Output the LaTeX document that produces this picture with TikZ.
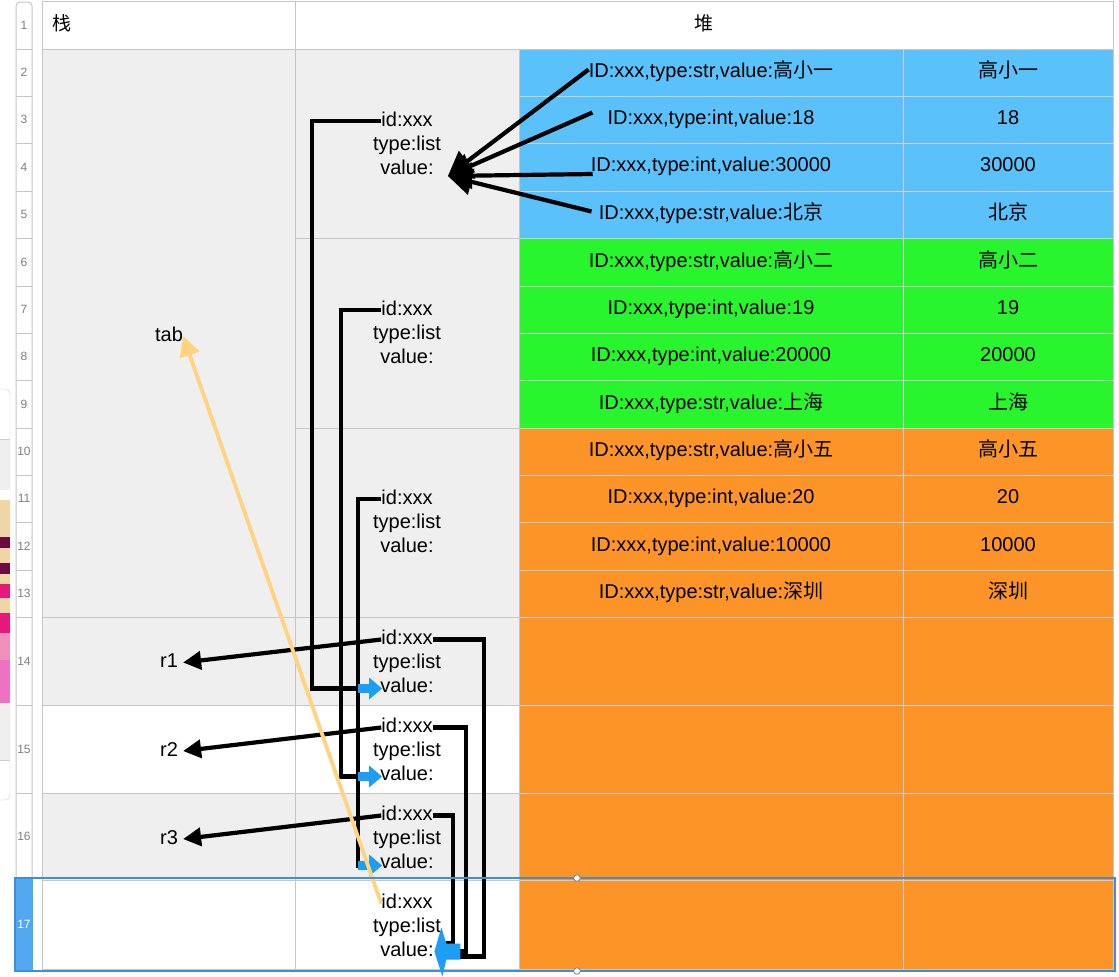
\documentclass[tikz,border=0pt]{standalone}
\usepackage{fontspec}
\setmainfont{Liberation Sans}
\newfontfamily\cjk{Noto Sans CJK SC}
\usetikzlibrary{arrows.meta,calc}
\definecolor{cellgrey}{HTML}{EFEFEF}
\definecolor{gridc}{HTML}{C6C6C6}
\definecolor{gridl}{HTML}{CFCFCF}
\definecolor{heapblue}{HTML}{5BC1FA}
\definecolor{heapgreen}{HTML}{29F52E}
\definecolor{heaporange}{HTML}{FD9428}
\definecolor{arrblue}{HTML}{1E9DF5}
\definecolor{selblue}{HTML}{3D8FDE}
\definecolor{selfill}{HTML}{52A8F0}
\definecolor{tabarrow}{HTML}{FFD37F}
\definecolor{rownum}{HTML}{7F7F7F}
\definecolor{pantan}{HTML}{EFD6A6}
\definecolor{panmaroon}{HTML}{6E0B3E}
\definecolor{panhot}{HTML}{E5197A}
\definecolor{panpink}{HTML}{EE72C2}
\begin{document}
\begin{tikzpicture}[x=1pt,y=-1pt,
  txt/.style={font=\fontsize{20}{24}\selectfont, inner sep=0pt, text height=14.5pt, text depth=4pt},
  rlab/.style={txt, inner xsep=5pt},
  numtxt/.style={font=\fontsize{12}{14}\selectfont, text=rownum, inner sep=0pt},
  grid/.style={draw=gridc, line width=1pt},
  gridlight/.style={draw=gridl, line width=1pt},
  conn/.style={black, line width=4.2pt},
  rarrow/.style={conn, -{Triangle[length=18pt,width=18pt]}},
  bigarrow/.style={conn, -{Triangle[length=24pt,width=26pt]}},
  blockarrow/.style={arrblue, line width=8.5pt, -{Triangle[length=13pt,width=21pt]}},
  tabconn/.style={tabarrow, line width=3.8pt, -{Triangle[length=20pt,width=20pt]}}
]
\useasboundingbox (0,0) rectangle (1119,977);
\fill[white] (0,0) rectangle (1119,977);

% floating side panel with pencils
\fill[white, draw=gridl, rounded corners=5] (-12,389) rectangle (10,800);
\fill[cellgrey] (-12,439) rectangle (9.5,760);
\draw[gridl] (-12,439) -- (10,439);
\draw[gridl] (-12,760) -- (10,760);
\foreach \ya/\yb/\c in {490/513/white, 500/537/pantan, 537/548/panmaroon, 548/563/pantan, 563/574/panmaroon, 574/584/pantan, 584/598/panhot, 598/613/pantan, 613/633/panhot, 633/660/panpink!70!pantan, 660/703/panpink}
  \fill[\c] (-2,\ya) rectangle (9.5,\yb);

% cell backgrounds
\fill[white] (42,1.5) rectangle (1113,969);
\fill[cellgrey] (42,49) rectangle (519,705);
\fill[cellgrey] (42,793) rectangle (519,880);
\fill[heapblue] (519,49) rectangle (1113,238);
\fill[heapgreen] (519,238) rectangle (1113,428);
\fill[heaporange] (519,428) rectangle (1113,969);

% grid lines
\foreach \y in {96,143,191,238,286,333,380,428,475,522,570,617,705,793,880}
  \draw[gridlight] (519,\y) -- (1113,\y);
\draw[grid] (42,49) -- (1113,49);
\draw[grid] (295,1.5) -- (295,969);
\draw[grid] (519,49) -- (519,969);
\draw[gridlight] (903,49) -- (903,969);
\foreach \y in {238,428} \draw[grid] (295,\y) -- (519,\y);
\foreach \y in {617,705,793,880} \draw[grid] (42,\y) -- (519,\y);
\draw[grid] (42,1.5) rectangle (1113,969);

% row number column
\fill[white] (16,969) -- (16,6) arc (180:270:4) -- (28,2) arc (270:360:4) -- (32,969) -- cycle;
\draw[grid] (16,969) -- (16,6) arc (180:270:4) -- (28,2) arc (270:360:4) -- (32,969);
\foreach \y in {49,96,143,191,238,286,333,380,428,475,522,570,617,705,793,880}
  \draw[grid] (16,\y) -- (32,\y);
\foreach \n/\y in {1/25,2/72.5,3/119.5,4/167,5/214.5,6/262,7/309.5,8/356.5,9/404,10/451.5,11/498.5,12/546,13/593.5,14/661,15/749,16/836.5}
  \node[numtxt] (rn\n) at (24,\y) {\n};
\fill[selfill] (15,878) rectangle (33,971);
\node[numtxt, text=white] (rn17) at (24,924.5) {17};

% header
\node[txt, anchor=west, font=\fontsize{19}{22}\selectfont] (hstack) at (52,25) {\cjk 栈};
\node[txt, font=\fontsize{19}{22}\selectfont] (hheap) at (704,25) {\cjk 堆};

% stack labels
\node[txt] (tab) at (169,336) {tab};
\node[rlab] (r1) at (169,662.5) {r1};
\node[rlab] (r2) at (169,751) {r2};
\node[rlab] (r3) at (169,839) {r3};

% list objects
\foreach \n/\y in {L1/121,L2/310,L3/499,L4/639.5,L5/727.5,L6/815.5,L7/903.5} {
  \node[txt] (\n-id) at (407,\y) {id:xxx};
  \node[txt] (\n-ty) at (407,\y+24) {type:list};
  \node[txt] (\n-val) at (407,\y+48) {value:};
}

% heap elements
\node[txt] (e2) at (711,72.5) {ID:xxx,type:str,value:{\cjk 高小一}};
\node[txt] (v2) at (1008,72.5) {\cjk 高小一};
\node[txt] (e3) at (711,119.5) {ID:xxx,type:int,value:18};
\node[txt] (v3) at (1008,119.5) {18};
\node[txt] (e4) at (711,166) {ID:xxx,type:int,value:30000};
\node[txt] (v4) at (1008,166) {30000};
\node[txt] (e5) at (711,214.5) {ID:xxx,type:str,value:{\cjk 北京}};
\node[txt] (v5) at (1008,214.5) {\cjk 北京};
\node[txt] (e6) at (711,262) {ID:xxx,type:str,value:{\cjk 高小二}};
\node[txt] (v6) at (1008,262) {\cjk 高小二};
\node[txt] (e7) at (711,309.5) {ID:xxx,type:int,value:19};
\node[txt] (v7) at (1008,309.5) {19};
\node[txt] (e8) at (711,356.5) {ID:xxx,type:int,value:20000};
\node[txt] (v8) at (1008,356.5) {20000};
\node[txt] (e9) at (711,404) {ID:xxx,type:str,value:{\cjk 上海}};
\node[txt] (v9) at (1008,404) {\cjk 上海};
\node[txt] (e10) at (711,451.5) {ID:xxx,type:str,value:{\cjk 高小五}};
\node[txt] (v10) at (1008,451.5) {\cjk 高小五};
\node[txt] (e11) at (711,498.5) {ID:xxx,type:int,value:20};
\node[txt] (v11) at (1008,498.5) {20};
\node[txt] (e12) at (711,546) {ID:xxx,type:int,value:10000};
\node[txt] (v12) at (1008,546) {10000};
\node[txt] (e13) at (711,593.5) {ID:xxx,type:str,value:{\cjk 深圳}};
\node[txt] (v13) at (1008,593.5) {\cjk 深圳};

% element -> first list value
\coordinate (L1tip) at ($(L1-val.east)+(14,7)$);
\draw[bigarrow] ($(e2.west)+(0,-3)$) -- (L1tip);
\draw[bigarrow] ($(e3.west)+(-15,-7)$) -- (L1tip);
\draw[bigarrow] ($(e4.west)+(2,8)$) -- (L1tip);
\draw[bigarrow] ($(e5.west)+(-7,-3)$) -- (L1tip);

% list objects -> value of row objects
\draw[conn] (L1-id.west) -- ++(-69,0) |- ($(L4-val.west)+(-10,1)$);
\draw[conn] (L2-id.west) -- ++(-40,0) |- ($(L5-val.west)+(-10,1)$);
\draw[conn] (L3-id.west) -- ++(-23,0) |- ($(L6-val.west)+(-10,2)$);
\draw[blockarrow] ($(L4-val.west)+(-22,1)$) -- ($(L4-val.west)+(2,1)$);
\draw[blockarrow] ($(L5-val.west)+(-22,1)$) -- ($(L5-val.west)+(2,1)$);
\draw[blockarrow] ($(L6-val.west)+(-22,2)$) -- ($(L6-val.west)+(2,2)$);

% row objects -> r1, r2, r3
\draw[rarrow] (L4-id.west) -- (r1.east);
\draw[rarrow] (L5-id.west) -- (r2.east);
\draw[rarrow] (L6-id.west) -- (r3.east);

% row objects -> last list value
\draw[conn] (L4-id.east) -| ($(L7-val.east)+(50,5)$) -- ($(L7-val.east)+(25,5)$);
\draw[conn] (L5-id.east) -| ($(L7-val.east)+(32,0)$) -- ($(L7-val.east)+(25,0)$);
\draw[conn] (L6-id.east) -| ($(L7-val.east)+(19,-8)$) -- ($(L7-val.east)+(12,-8)$);
\fill[arrblue] ($(L7-val.east)+(0.5,0)$) -- ++(7,-24) -- ++(5,16) -- ++(14,0) -- ++(0,16) -- ++(-14,0) -- ++(-4,17) -- cycle;

% last list -> tab
\draw[tabconn] (L7-id.west) -- (tab.east);

% selection of row 17
\draw[selblue, line width=1.2pt] (15,878) rectangle (1115,971);
\filldraw[fill=white, draw=selblue!50!gray, line width=0.8pt] (577,878) circle (3.3);
\filldraw[fill=white, draw=selblue!50!gray, line width=0.8pt] (577,971) circle (3.3);
\end{tikzpicture}
\end{document}
